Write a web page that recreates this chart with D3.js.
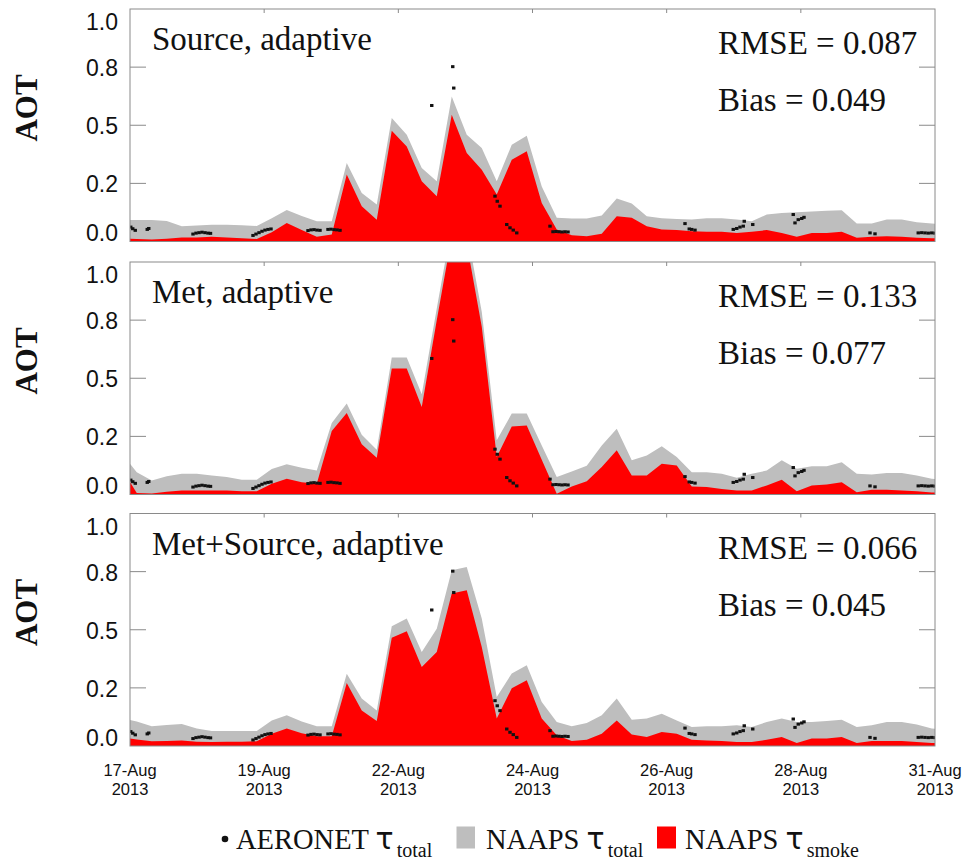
<!DOCTYPE html>
<html><head><meta charset="utf-8">
<script src="https://cdn.jsdelivr.net/npm/d3@7/dist/d3.min.js"></script>
<style>body{margin:0;background:#fff}</style>
</head><body><svg id="c" width="967" height="863"></svg>
<script>
// ---------- data ----------
const panelTitles = ["Source, adaptive", "Met, adaptive", "Met+Source, adaptive"];
const rmseValues = ["0.087", "0.133", "0.066"];
const biasValues = ["0.049", "0.077", "0.045"];
const xTickLabels = [["17-Aug","2013"],["19-Aug","2013"],["22-Aug","2013"],["24-Aug","2013"],["26-Aug","2013"],["28-Aug","2013"],["31-Aug","2013"]];
const yTickValues = [0, 0.25, 0.5, 0.75, 1.0];
const yTickLabels = ["0.0", "0.2", "0.5", "0.8", "1.0"];
// model time grid (hours from first analysis, 6-hourly)
const modelHours = d3.range(-6, 325, 6);
const sourceTotal = [0.092,0.092,0.092,0.088,0.066,0.069,0.072,0.072,0.070,0.067,0.100,0.135,0.110,0.087,0.087,0.338,0.209,0.159,0.531,0.459,0.316,0.259,0.624,0.459,0.402,0.259,0.416,0.455,0.237,0.102,0.099,0.099,0.112,0.185,0.163,0.109,0.100,0.097,0.095,0.100,0.100,0.095,0.087,0.116,0.123,0.126,0.129,0.132,0.134,0.077,0.077,0.095,0.095,0.083,0.077,0.075];
const sourceSmoke = [0.012,0.011,0.009,0.012,0.017,0.017,0.020,0.017,0.014,0.011,0.040,0.080,0.050,0.020,0.030,0.288,0.152,0.094,0.476,0.409,0.259,0.195,0.545,0.381,0.309,0.202,0.352,0.388,0.166,0.052,0.027,0.023,0.033,0.109,0.102,0.066,0.052,0.049,0.044,0.042,0.042,0.037,0.042,0.049,0.037,0.020,0.037,0.037,0.042,0.016,0.020,0.023,0.020,0.016,0.014,0.013];
const metTotal = [0.177,0.096,0.060,0.079,0.089,0.089,0.082,0.075,0.063,0.063,0.110,0.130,0.115,0.103,0.307,0.391,0.257,0.193,0.589,0.589,0.431,0.800,1.160,1.140,0.786,0.233,0.348,0.348,0.211,0.075,0.099,0.124,0.211,0.283,0.147,0.168,0.207,0.161,0.096,0.096,0.089,0.072,0.089,0.103,0.147,0.111,0.121,0.121,0.139,0.089,0.086,0.093,0.093,0.082,0.068,0.060];
const metSmoke = [0.111,0.006,0.004,0.012,0.017,0.017,0.017,0.017,0.014,0.014,0.046,0.068,0.053,0.046,0.273,0.351,0.216,0.158,0.542,0.542,0.376,0.750,1.110,1.080,0.721,0.161,0.293,0.297,0.149,0.003,0.034,0.057,0.118,0.190,0.082,0.082,0.132,0.125,0.034,0.032,0.024,0.017,0.017,0.039,0.063,0.014,0.039,0.043,0.053,0.010,0.020,0.020,0.017,0.014,0.009,0.006];
const metSourceTotal = [0.120,0.105,0.085,0.090,0.095,0.075,0.065,0.065,0.065,0.065,0.110,0.132,0.105,0.085,0.085,0.311,0.204,0.153,0.515,0.548,0.404,0.504,0.756,0.770,0.548,0.211,0.312,0.347,0.189,0.103,0.085,0.099,0.132,0.204,0.113,0.118,0.139,0.110,0.082,0.085,0.085,0.089,0.082,0.103,0.118,0.103,0.103,0.108,0.113,0.082,0.089,0.103,0.103,0.093,0.075,0.070];
const metSourceSmoke = [0.038,0.028,0.020,0.022,0.024,0.018,0.017,0.018,0.018,0.020,0.053,0.075,0.055,0.042,0.042,0.271,0.153,0.108,0.466,0.494,0.340,0.404,0.656,0.670,0.426,0.118,0.248,0.283,0.118,0.046,0.022,0.027,0.053,0.110,0.050,0.039,0.060,0.053,0.027,0.024,0.022,0.017,0.017,0.027,0.039,0.013,0.032,0.032,0.039,0.013,0.022,0.022,0.022,0.017,0.013,0.012];
// AERONET observations (hours on same time axis, AOT)
const obsHours = [-2.4,-1.6,-0.6,4.2,4.8,22.5,23.7,24.9,26.1,27.3,28.5,29.5,46.5,47.7,48.9,50.1,51.3,52.5,53.7,68.5,69.7,70.9,72.1,73.3,76.5,77.7,78.9,80.1,81.3,118,126.4,126.8,143.3,144.2,145.3,148,149.3,150.6,152,165.3,166.5,167.7,168.9,170.1,171.3,172.5,219.3,221,222,223.3,238.6,240,241.3,242.6,243,246.4,262.6,263.3,264.6,266,266.9,293.3,295.3,312.6,314,315.3,316.6,318,319.3];
const obsValues = [0.062,0.055,0.048,0.052,0.056,0.032,0.036,0.038,0.040,0.038,0.036,0.035,0.026,0.032,0.038,0.044,0.049,0.052,0.054,0.047,0.050,0.051,0.049,0.048,0.052,0.053,0.051,0.050,0.048,0.585,0.752,0.660,0.195,0.173,0.152,0.073,0.059,0.049,0.037,0.066,0.042,0.043,0.042,0.041,0.042,0.041,0.077,0.054,0.052,0.049,0.052,0.056,0.062,0.066,0.087,0.073,0.116,0.080,0.094,0.099,0.104,0.037,0.033,0.037,0.038,0.037,0.036,0.037,0.036];
const legendItems = [
  {label: "AERONET ", sub: "total"},
  {label: "NAAPS ", sub: "total"},
  {label: "NAAPS ", sub: "smoke"}
];
const panelSeries = [[sourceTotal, sourceSmoke],[metTotal, metSmoke],[metSourceTotal, metSourceSmoke]];

// ---------- layout ----------
const W = 967, H = 863;
const left = 130, right = 935;
const panelTops = [9, 262, 513.5];
const panelH = 232.5;
const serif = "'Liberation Serif','Times New Roman',serif";
const sans = "'Liberation Sans',Arial,Helvetica,sans-serif";
const frameColor = "#8a8a8a";
const grayFill = "#bebebe", redFill = "#ff0000";

const svg = d3.select("#c");
svg.append("rect").attr("width", W).attr("height", H).attr("fill", "#fff");

const x = d3.scaleLinear().domain([-2.7, 319.3]).range([left, right]);
const [d0, d1] = x.domain();
const xTicks = d3.range(7).map(i => d0 + i * (d1 - d0) / 6);

panelSeries.forEach((series, p) => {
  const top = panelTops[p], bottom = top + panelH;
  const y = d3.scaleLinear().domain([0, 1]).range([bottom, top]);
  const g = svg.append("g");
  const clipId = "clip" + p;
  svg.append("clipPath").attr("id", clipId).append("rect")
    .attr("x", left).attr("y", top).attr("width", right - left).attr("height", panelH);
  const plot = g.append("g").attr("clip-path", `url(#${clipId})`);
  const [tot, smk] = series;
  const area = vals => d3.area().x((d, i) => x(modelHours[i])).y0(y(0)).y1(d => y(d))(vals);
  plot.append("path").attr("d", area(tot)).attr("fill", grayFill);
  plot.append("path").attr("d", area(smk)).attr("fill", redFill);
  plot.selectAll("rect.obs").data(obsHours).enter().append("rect")
    .attr("class", "obs")
    .attr("x", (h) => x(h) - 1.7).attr("y", (h, i) => y(obsValues[i]) - 1.5)
    .attr("width", 3.4).attr("height", 3).attr("fill", "#111");

  // frame
  g.append("rect").attr("x", left).attr("y", top).attr("width", right - left).attr("height", panelH)
    .attr("fill", "none").attr("stroke", frameColor).attr("stroke-width", 1);
  // y ticks (left and right, inward)
  yTickValues.slice(1, -1).forEach(v => {
    g.append("line").attr("x1", left).attr("x2", left + 16).attr("y1", y(v)).attr("y2", y(v)).attr("stroke", frameColor);
    g.append("line").attr("x1", right).attr("x2", right - 16).attr("y1", y(v)).attr("y2", y(v)).attr("stroke", frameColor);
  });
  // top ticks
  xTicks.slice(1, -1).forEach(t => {
    g.append("line").attr("x1", x(t)).attr("x2", x(t)).attr("y1", top).attr("y2", top + 4).attr("stroke", frameColor);
  });
  // y tick labels
  yTickValues.forEach((v, i) => {
    let yy = y(v) + 9;
    if (i === 0) yy = bottom - 0.5;
    if (i === yTickValues.length - 1) yy = top + 21;
    g.append("text").attr("x", 118).attr("y", yy).attr("text-anchor", "end")
      .attr("font-family", sans).attr("font-size", 23).attr("fill", "#111").text(yTickLabels[i]);
  });
  // axis title
  g.append("text").attr("transform", `translate(37,${top + 99}) rotate(-90)`)
    .attr("text-anchor", "middle").attr("font-family", serif).attr("font-weight", "bold")
    .attr("font-size", 31).attr("fill", "#111").text("AOT");
  // annotations
  g.append("text").attr("x", 152).attr("y", top + 41).attr("font-family", serif)
    .attr("font-size", 33).attr("fill", "#111").text(panelTitles[p]);
  g.append("text").attr("x", 718).attr("y", top + 45).attr("font-family", serif)
    .attr("font-size", 33).attr("fill", "#111").text("RMSE = " + rmseValues[p]);
  g.append("text").attr("x", 718).attr("y", top + 102).attr("font-family", serif)
    .attr("font-size", 33).attr("fill", "#111").text("Bias = " + biasValues[p]);
});

// x tick labels under bottom panel
xTicks.forEach((t, i) => {
  const tx = svg.append("text").attr("text-anchor", "middle").attr("font-family", sans)
    .attr("font-size", 16.5).attr("fill", "#111");
  tx.append("tspan").attr("x", x(t)).attr("y", 776).text(xTickLabels[i][0]);
  tx.append("tspan").attr("x", x(t)).attr("y", 795).text(xTickLabels[i][1]);
});

// legend
const legBase = 848.5;
const legX = [236, 486, 685];
svg.append("circle").attr("cx", 225).attr("cy", 839).attr("r", 3.3).attr("fill", "#111");
svg.append("rect").attr("x", 456.5).attr("y", 826.5).attr("width", 18.5).attr("height", 22).attr("fill", grayFill);
svg.append("rect").attr("x", 657).attr("y", 826.5).attr("width", 19).attr("height", 22).attr("fill", redFill);
legendItems.forEach((it, i) => {
  const t = svg.append("text").attr("x", legX[i]).attr("y", legBase).attr("font-family", serif)
    .attr("font-size", 28.5).attr("fill", "#111");
  t.append("tspan").text(it.label);
  t.append("tspan").attr("font-family", "'DejaVu Sans',sans-serif").attr("font-size", 30).text("τ");
  t.append("tspan").attr("dx", 3).attr("dy", 8.5).attr("font-size", 20).text(it.sub);
});
</script></body></html>
